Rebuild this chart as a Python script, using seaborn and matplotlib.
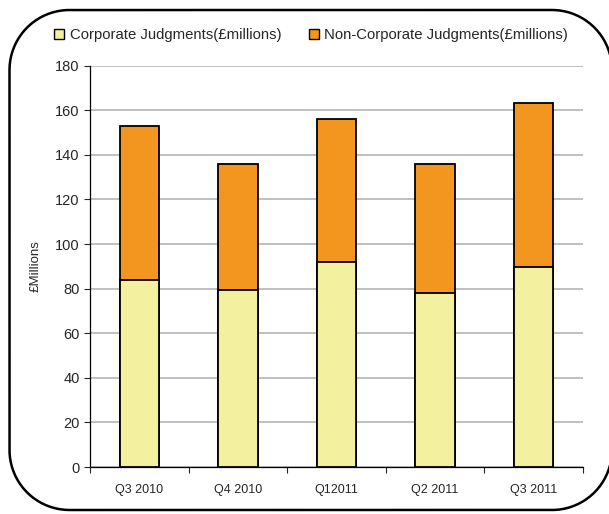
import matplotlib
matplotlib.use("Agg")
import matplotlib.pyplot as plt
import seaborn as sns
import pandas as pd
import numpy as np
from matplotlib.lines import Line2D

# Datos
quarters = ["Q3 2010", "Q4 2010", "Q1 2011", "Q2 2011", "Q3 2011"]
tick_labels = ["Q3 2010", "Q4 2010", "Q12011", "Q2 2011", "Q3 2011"]
corporate = [84, 79.5, 92, 78, 89.5]
non_corporate = [69, 56.5, 64, 58, 73.5]

yellow = "#F3F09F"
orange = "#F39620"

sns.set_style("white")
plt.rcParams["font.family"] = ["Liberation Sans", "DejaVu Sans"]

df = pd.DataFrame({"Trimestre": quarters,
                   "Corporate": corporate,
                   "Total": [c + n for c, n in zip(corporate, non_corporate)]})

fig = plt.figure(figsize=(6.09, 5.14), dpi=100)
ax = fig.add_axes([0.148, 0.0914, 0.809, 0.781])

# barra total (naranja) y encima la parte corporativa (amarilla)
sns.barplot(data=df, x="Trimestre", y="Total", color=orange, width=0.4,
            edgecolor="black", linewidth=1.3, saturation=1, ax=ax, zorder=3)
sns.barplot(data=df, x="Trimestre", y="Corporate", color=yellow, width=0.4,
            edgecolor="black", linewidth=1.3, saturation=1, ax=ax, zorder=4)

ax.set_ylim(0, 180)
ax.set_xlim(-0.5, 4.5)
ax.set_yticks(range(0, 181, 20))
ax.yaxis.grid(True, color="#c0c0c0", linewidth=1.4, zorder=0)
ax.set_axisbelow(True)

ax.set_xticks([i - 0.5 for i in range(6)])
ax.set_xticklabels([])
ax.set_xticks(range(5), minor=True)
ax.set_xticklabels(tick_labels, minor=True, fontsize=9)
ax.tick_params(axis="x", which="major", length=4, direction="out", bottom=True, width=0.8)
ax.tick_params(axis="x", which="minor", length=0, pad=12)
ax.tick_params(axis="y", length=4, direction="out", left=True, labelsize=10.5, width=0.8)

ax.set_xlabel("")
ax.set_ylabel("£Millions", fontsize=9.5, labelpad=10)
for s in ["top", "right"]:
    ax.spines[s].set_visible(False)
for s in ["left", "bottom"]:
    ax.spines[s].set_color("black")
    ax.spines[s].set_linewidth(0.9)

handles = [Line2D([], [], marker="s", linestyle="none", markersize=7.5,
                  markerfacecolor=yellow, markeredgecolor="black", markeredgewidth=1),
           Line2D([], [], marker="s", linestyle="none", markersize=7.5,
                  markerfacecolor=orange, markeredgecolor="black", markeredgewidth=1)]
fig.legend(handles, ["Corporate Judgments(£millions)", "Non-Corporate Judgments(£millions)"],
           loc="center", bbox_to_anchor=(0.51, 0.932), ncol=2, frameon=False,
           fontsize=10.7, handletextpad=0.3, columnspacing=1.8, handlelength=0.8)

# marco redondeado (en pulgadas), el lado derecho queda fuera de la imagen
x0, x1, y0, y1, r = 0.095, 6.12, 0.04, 5.04, 0.60
xs, ys = [], []
for cx, cy, a0 in [(x1 - r, y1 - r, 0), (x0 + r, y1 - r, 90),
                   (x0 + r, y0 + r, 180), (x1 - r, y0 + r, 270)]:
    t = np.radians(np.linspace(a0, a0 + 90, 40))
    xs.extend(cx + r * np.cos(t))
    ys.extend(cy + r * np.sin(t))
xs.append(xs[0])
ys.append(ys[0])
fig.add_artist(Line2D(xs, ys, transform=fig.dpi_scale_trans, color="black", linewidth=1.8))

fig.savefig("out.png", dpi=100)
